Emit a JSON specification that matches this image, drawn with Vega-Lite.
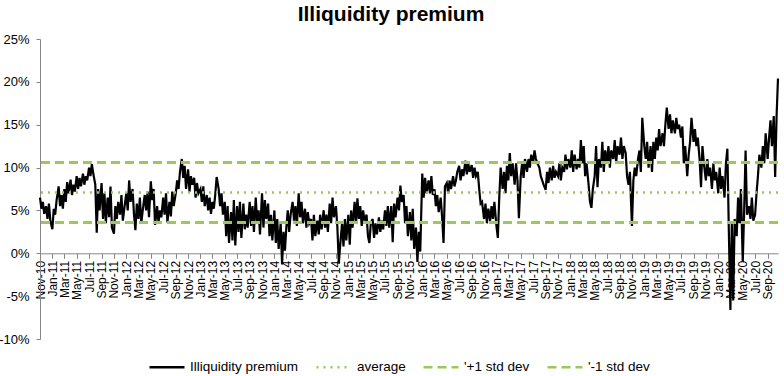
{
  "$schema": "https://vega.github.io/schema/vega-lite/v6.json",
  "width": 738,
  "height": 300,
  "autosize": "none",
  "padding": {"left": 40, "top": 39, "right": 6, "bottom": 37},
  "background": "#ffffff",
  "config": {
    "view": {"stroke": null},
    "font": "Liberation Sans",
    "legend": {"symbolType": "stroke", "symbolSize": 1225, "symbolStrokeWidth": 2.5, "labelFontSize": 13.5, "labelColor": "#000000", "labelFont": "Liberation Sans", "columnPadding": 12, "labelOffset": 4, "padding": 0}
  },
  "title": {"text": "Illiquidity premium", "fontSize": 21, "fontWeight": "bold", "font": "Liberation Sans", "color": "#000000", "anchor": "middle", "dx": -18, "offset": 8},
  "layer": [
    {
      "data": {"values": [
{"d":"2010-11-01","v":6.5},{"d":"2010-11-08","v":5.2},{"d":"2010-11-15","v":6.0},{"d":"2010-11-22","v":4.6},
{"d":"2010-12-01","v":5.5},{"d":"2010-12-08","v":4.0},{"d":"2010-12-15","v":5.8},{"d":"2010-12-22","v":3.8},
{"d":"2011-01-01","v":2.8},{"d":"2011-01-08","v":5.2},{"d":"2011-01-15","v":4.5},{"d":"2011-01-22","v":6.2},
{"d":"2011-02-01","v":7.8},{"d":"2011-02-08","v":5.5},{"d":"2011-02-15","v":6.8},{"d":"2011-02-22","v":5.2},
{"d":"2011-03-01","v":7.5},{"d":"2011-03-08","v":6.0},{"d":"2011-03-15","v":8.3},{"d":"2011-03-22","v":7.0},
{"d":"2011-04-01","v":8.6},{"d":"2011-04-08","v":6.8},{"d":"2011-04-15","v":8.0},{"d":"2011-04-22","v":7.2},
{"d":"2011-05-01","v":9.0},{"d":"2011-05-08","v":7.5},{"d":"2011-05-15","v":8.8},{"d":"2011-05-22","v":7.8},
{"d":"2011-06-01","v":9.3},{"d":"2011-06-08","v":8.0},{"d":"2011-06-15","v":9.0},{"d":"2011-06-22","v":8.5},
{"d":"2011-07-01","v":10.0},{"d":"2011-07-08","v":9.0},{"d":"2011-07-15","v":10.4},{"d":"2011-07-22","v":9.3},
{"d":"2011-08-01","v":8.0},{"d":"2011-08-08","v":2.4},{"d":"2011-08-15","v":7.5},{"d":"2011-08-22","v":5.0},
{"d":"2011-09-01","v":8.2},{"d":"2011-09-08","v":4.0},{"d":"2011-09-15","v":7.0},{"d":"2011-09-22","v":3.5},
{"d":"2011-10-01","v":6.5},{"d":"2011-10-08","v":4.2},{"d":"2011-10-15","v":7.8},{"d":"2011-10-22","v":3.0},
{"d":"2011-11-01","v":2.3},{"d":"2011-11-08","v":5.5},{"d":"2011-11-15","v":4.0},{"d":"2011-11-22","v":6.0},
{"d":"2011-12-01","v":4.5},{"d":"2011-12-08","v":6.8},{"d":"2011-12-15","v":3.8},{"d":"2011-12-22","v":5.2},
{"d":"2012-01-01","v":7.0},{"d":"2012-01-08","v":5.0},{"d":"2012-01-15","v":8.5},{"d":"2012-01-22","v":6.0},
{"d":"2012-02-01","v":7.5},{"d":"2012-02-08","v":4.5},{"d":"2012-02-15","v":2.7},{"d":"2012-02-22","v":5.8},
{"d":"2012-03-01","v":4.0},{"d":"2012-03-08","v":6.5},{"d":"2012-03-15","v":3.5},{"d":"2012-03-22","v":5.0},
{"d":"2012-04-01","v":6.8},{"d":"2012-04-08","v":5.0},{"d":"2012-04-15","v":7.2},{"d":"2012-04-22","v":4.2},
{"d":"2012-05-01","v":8.4},{"d":"2012-05-08","v":6.2},{"d":"2012-05-15","v":7.5},{"d":"2012-05-22","v":3.3},
{"d":"2012-06-01","v":5.5},{"d":"2012-06-08","v":3.6},{"d":"2012-06-15","v":5.0},{"d":"2012-06-22","v":4.2},
{"d":"2012-07-01","v":6.5},{"d":"2012-07-08","v":4.5},{"d":"2012-07-15","v":7.0},{"d":"2012-07-22","v":3.6},
{"d":"2012-08-01","v":6.0},{"d":"2012-08-08","v":4.3},{"d":"2012-08-15","v":7.2},{"d":"2012-08-22","v":5.5},
{"d":"2012-09-01","v":7.0},{"d":"2012-09-08","v":8.5},{"d":"2012-09-15","v":7.5},{"d":"2012-09-22","v":9.5},
{"d":"2012-10-01","v":11.0},{"d":"2012-10-08","v":8.8},{"d":"2012-10-15","v":10.2},{"d":"2012-10-22","v":7.5},
{"d":"2012-11-01","v":9.8},{"d":"2012-11-08","v":7.2},{"d":"2012-11-15","v":9.0},{"d":"2012-11-22","v":8.0},
{"d":"2012-12-01","v":8.8},{"d":"2012-12-08","v":6.5},{"d":"2012-12-15","v":8.2},{"d":"2012-12-22","v":7.0},
{"d":"2013-01-01","v":7.5},{"d":"2013-01-08","v":6.0},{"d":"2013-01-15","v":7.8},{"d":"2013-01-22","v":5.5},
{"d":"2013-02-01","v":6.8},{"d":"2013-02-08","v":5.0},{"d":"2013-02-15","v":6.5},{"d":"2013-02-22","v":4.6},
{"d":"2013-03-01","v":6.0},{"d":"2013-03-08","v":5.2},{"d":"2013-03-15","v":6.8},{"d":"2013-03-22","v":8.9},
{"d":"2013-04-01","v":7.5},{"d":"2013-04-08","v":5.5},{"d":"2013-04-15","v":7.0},{"d":"2013-04-22","v":4.5},
{"d":"2013-05-01","v":6.0},{"d":"2013-05-08","v":2.0},{"d":"2013-05-15","v":5.5},{"d":"2013-05-22","v":1.2},
{"d":"2013-06-01","v":4.8},{"d":"2013-06-08","v":1.5},{"d":"2013-06-15","v":6.2},{"d":"2013-06-22","v":0.9},
{"d":"2013-07-01","v":5.5},{"d":"2013-07-08","v":2.5},{"d":"2013-07-15","v":6.0},{"d":"2013-07-22","v":1.8},
{"d":"2013-08-01","v":5.8},{"d":"2013-08-08","v":2.8},{"d":"2013-08-15","v":4.5},{"d":"2013-08-22","v":3.0},
{"d":"2013-09-01","v":6.0},{"d":"2013-09-08","v":3.2},{"d":"2013-09-15","v":5.5},{"d":"2013-09-22","v":2.5},
{"d":"2013-10-01","v":6.5},{"d":"2013-10-08","v":3.5},{"d":"2013-10-15","v":5.0},{"d":"2013-10-22","v":2.2},
{"d":"2013-11-01","v":7.0},{"d":"2013-11-08","v":3.0},{"d":"2013-11-15","v":6.2},{"d":"2013-11-22","v":4.0},
{"d":"2013-12-01","v":5.8},{"d":"2013-12-08","v":2.0},{"d":"2013-12-15","v":4.5},{"d":"2013-12-22","v":1.5},
{"d":"2014-01-01","v":5.0},{"d":"2014-01-08","v":1.2},{"d":"2014-01-15","v":4.0},{"d":"2014-01-22","v":0.5},
{"d":"2014-02-01","v":3.5},{"d":"2014-02-08","v":-1.3},{"d":"2014-02-15","v":2.5},{"d":"2014-02-22","v":0.3},
{"d":"2014-03-01","v":3.0},{"d":"2014-03-08","v":5.0},{"d":"2014-03-15","v":2.5},{"d":"2014-03-22","v":4.5},
{"d":"2014-04-01","v":6.0},{"d":"2014-04-08","v":3.8},{"d":"2014-04-15","v":5.5},{"d":"2014-04-22","v":3.2},
{"d":"2014-05-01","v":7.0},{"d":"2014-05-08","v":4.2},{"d":"2014-05-15","v":6.0},{"d":"2014-05-22","v":3.5},
{"d":"2014-06-01","v":5.2},{"d":"2014-06-08","v":3.0},{"d":"2014-06-15","v":4.8},{"d":"2014-06-22","v":3.5},
{"d":"2014-07-01","v":4.0},{"d":"2014-07-08","v":1.5},{"d":"2014-07-15","v":4.5},{"d":"2014-07-22","v":2.0},
{"d":"2014-08-01","v":3.8},{"d":"2014-08-08","v":2.2},{"d":"2014-08-15","v":4.5},{"d":"2014-08-22","v":2.8},
{"d":"2014-09-01","v":5.0},{"d":"2014-09-08","v":3.0},{"d":"2014-09-15","v":4.5},{"d":"2014-09-22","v":2.5},
{"d":"2014-10-01","v":5.8},{"d":"2014-10-08","v":3.5},{"d":"2014-10-15","v":6.5},{"d":"2014-10-22","v":4.2},
{"d":"2014-11-01","v":5.5},{"d":"2014-11-08","v":3.0},{"d":"2014-11-15","v":-1.2},{"d":"2014-11-22","v":1.0},
{"d":"2014-12-01","v":3.5},{"d":"2014-12-08","v":0.8},{"d":"2014-12-15","v":4.0},{"d":"2014-12-22","v":1.5},
{"d":"2015-01-01","v":4.5},{"d":"2015-01-08","v":1.0},{"d":"2015-01-15","v":5.0},{"d":"2015-01-22","v":3.0},
{"d":"2015-02-01","v":6.0},{"d":"2015-02-08","v":3.5},{"d":"2015-02-15","v":6.4},{"d":"2015-02-22","v":4.0},
{"d":"2015-03-01","v":5.5},{"d":"2015-03-08","v":3.2},{"d":"2015-03-15","v":5.0},{"d":"2015-03-22","v":3.8},
{"d":"2015-04-01","v":4.5},{"d":"2015-04-08","v":2.0},{"d":"2015-04-15","v":1.2},{"d":"2015-04-22","v":3.5},
{"d":"2015-05-01","v":4.0},{"d":"2015-05-08","v":1.8},{"d":"2015-05-15","v":3.5},{"d":"2015-05-22","v":2.2},
{"d":"2015-06-01","v":4.2},{"d":"2015-06-08","v":2.5},{"d":"2015-06-15","v":3.8},{"d":"2015-06-22","v":2.8},
{"d":"2015-07-01","v":5.0},{"d":"2015-07-08","v":3.2},{"d":"2015-07-15","v":5.5},{"d":"2015-07-22","v":3.0},
{"d":"2015-08-01","v":5.5},{"d":"2015-08-08","v":1.3},{"d":"2015-08-15","v":5.8},{"d":"2015-08-22","v":4.2},
{"d":"2015-09-01","v":6.5},{"d":"2015-09-08","v":5.0},{"d":"2015-09-15","v":7.9},{"d":"2015-09-22","v":6.0},
{"d":"2015-10-01","v":6.8},{"d":"2015-10-08","v":3.5},{"d":"2015-10-15","v":5.5},{"d":"2015-10-22","v":2.0},
{"d":"2015-11-01","v":4.8},{"d":"2015-11-08","v":1.5},{"d":"2015-11-15","v":5.2},{"d":"2015-11-22","v":0.5},
{"d":"2015-12-01","v":3.0},{"d":"2015-12-08","v":-1.0},{"d":"2015-12-15","v":2.5},{"d":"2015-12-22","v":0.2},
{"d":"2016-01-01","v":9.3},{"d":"2016-01-08","v":6.5},{"d":"2016-01-15","v":8.8},{"d":"2016-01-22","v":7.0},
{"d":"2016-02-01","v":8.5},{"d":"2016-02-08","v":7.0},{"d":"2016-02-15","v":9.0},{"d":"2016-02-22","v":6.8},
{"d":"2016-03-01","v":7.5},{"d":"2016-03-08","v":5.5},{"d":"2016-03-15","v":6.8},{"d":"2016-03-22","v":4.8},
{"d":"2016-04-01","v":6.5},{"d":"2016-04-08","v":4.2},{"d":"2016-04-15","v":1.2},{"d":"2016-04-22","v":7.8},
{"d":"2016-05-01","v":8.2},{"d":"2016-05-08","v":7.0},{"d":"2016-05-15","v":8.5},{"d":"2016-05-22","v":7.5},
{"d":"2016-06-01","v":9.0},{"d":"2016-06-08","v":7.8},{"d":"2016-06-15","v":8.5},{"d":"2016-06-22","v":9.5},
{"d":"2016-07-01","v":10.2},{"d":"2016-07-08","v":8.5},{"d":"2016-07-15","v":9.8},{"d":"2016-07-22","v":9.0},
{"d":"2016-08-01","v":10.8},{"d":"2016-08-08","v":9.2},{"d":"2016-08-15","v":10.5},{"d":"2016-08-22","v":9.5},
{"d":"2016-09-01","v":10.3},{"d":"2016-09-08","v":8.8},{"d":"2016-09-15","v":10.0},{"d":"2016-09-22","v":9.0},
{"d":"2016-10-01","v":9.5},{"d":"2016-10-08","v":7.5},{"d":"2016-10-15","v":5.8},{"d":"2016-10-22","v":6.0},
{"d":"2016-11-01","v":4.0},{"d":"2016-11-08","v":5.8},{"d":"2016-11-15","v":3.5},{"d":"2016-11-22","v":5.2},
{"d":"2016-12-01","v":3.8},{"d":"2016-12-08","v":5.5},{"d":"2016-12-15","v":4.0},{"d":"2016-12-22","v":6.0},
{"d":"2017-01-01","v":3.2},{"d":"2017-01-08","v":1.8},{"d":"2017-01-15","v":6.5},{"d":"2017-01-22","v":10.0},
{"d":"2017-02-01","v":7.5},{"d":"2017-02-08","v":9.5},{"d":"2017-02-15","v":7.0},{"d":"2017-02-22","v":10.2},
{"d":"2017-03-01","v":8.5},{"d":"2017-03-08","v":11.7},{"d":"2017-03-15","v":9.0},{"d":"2017-03-22","v":10.5},
{"d":"2017-04-01","v":8.0},{"d":"2017-04-08","v":10.5},{"d":"2017-04-15","v":8.5},{"d":"2017-04-22","v":4.1},
{"d":"2017-05-01","v":9.0},{"d":"2017-05-08","v":10.5},{"d":"2017-05-15","v":8.8},{"d":"2017-05-22","v":11.0},
{"d":"2017-06-01","v":9.5},{"d":"2017-06-08","v":11.0},{"d":"2017-06-15","v":10.0},{"d":"2017-06-22","v":11.5},
{"d":"2017-07-01","v":10.5},{"d":"2017-07-08","v":12.0},{"d":"2017-07-15","v":11.0},{"d":"2017-07-22","v":10.5},
{"d":"2017-08-01","v":10.0},{"d":"2017-08-08","v":9.0},{"d":"2017-08-15","v":8.5},{"d":"2017-08-22","v":8.0},
{"d":"2017-09-01","v":7.4},{"d":"2017-09-08","v":9.5},{"d":"2017-09-15","v":8.2},{"d":"2017-09-22","v":10.0},
{"d":"2017-10-01","v":8.5},{"d":"2017-10-08","v":10.2},{"d":"2017-10-15","v":8.8},{"d":"2017-10-22","v":9.5},
{"d":"2017-11-01","v":9.0},{"d":"2017-11-08","v":10.5},{"d":"2017-11-15","v":8.5},{"d":"2017-11-22","v":10.0},
{"d":"2017-12-01","v":9.5},{"d":"2017-12-08","v":11.5},{"d":"2017-12-15","v":9.8},{"d":"2017-12-22","v":11.0},
{"d":"2018-01-01","v":10.0},{"d":"2018-01-08","v":12.0},{"d":"2018-01-15","v":9.5},{"d":"2018-01-22","v":11.5},
{"d":"2018-02-01","v":9.8},{"d":"2018-02-08","v":11.0},{"d":"2018-02-15","v":10.0},{"d":"2018-02-22","v":13.2},
{"d":"2018-03-01","v":10.5},{"d":"2018-03-08","v":12.5},{"d":"2018-03-15","v":9.0},{"d":"2018-03-22","v":10.5},
{"d":"2018-04-01","v":8.0},{"d":"2018-04-08","v":6.0},{"d":"2018-04-15","v":5.3},{"d":"2018-04-22","v":7.5},
{"d":"2018-05-01","v":9.0},{"d":"2018-05-08","v":12.5},{"d":"2018-05-15","v":7.7},{"d":"2018-05-22","v":11.0},
{"d":"2018-06-01","v":10.0},{"d":"2018-06-08","v":13.0},{"d":"2018-06-15","v":9.5},{"d":"2018-06-22","v":12.0},
{"d":"2018-07-01","v":10.5},{"d":"2018-07-08","v":12.5},{"d":"2018-07-15","v":10.0},{"d":"2018-07-22","v":12.0},
{"d":"2018-08-01","v":11.0},{"d":"2018-08-08","v":13.2},{"d":"2018-08-15","v":10.5},{"d":"2018-08-22","v":12.5},
{"d":"2018-09-01","v":11.5},{"d":"2018-09-08","v":13.5},{"d":"2018-09-15","v":11.0},{"d":"2018-09-22","v":12.5},
{"d":"2018-10-01","v":11.7},{"d":"2018-10-08","v":9.0},{"d":"2018-10-15","v":8.0},{"d":"2018-10-22","v":9.5},
{"d":"2018-11-01","v":3.2},{"d":"2018-11-08","v":8.5},{"d":"2018-11-15","v":10.0},{"d":"2018-11-22","v":9.0},
{"d":"2018-12-01","v":11.0},{"d":"2018-12-08","v":12.0},{"d":"2018-12-15","v":9.5},{"d":"2018-12-22","v":15.8},
{"d":"2019-01-01","v":12.5},{"d":"2019-01-08","v":11.0},{"d":"2019-01-15","v":13.0},{"d":"2019-01-22","v":10.0},
{"d":"2019-02-01","v":12.5},{"d":"2019-02-08","v":9.5},{"d":"2019-02-15","v":13.0},{"d":"2019-02-22","v":11.0},
{"d":"2019-03-01","v":13.5},{"d":"2019-03-08","v":12.0},{"d":"2019-03-15","v":14.5},{"d":"2019-03-22","v":12.5},
{"d":"2019-04-01","v":14.0},{"d":"2019-04-08","v":12.5},{"d":"2019-04-15","v":15.0},{"d":"2019-04-22","v":17.0},
{"d":"2019-05-01","v":14.5},{"d":"2019-05-08","v":16.2},{"d":"2019-05-15","v":14.0},{"d":"2019-05-22","v":15.5},
{"d":"2019-06-01","v":14.0},{"d":"2019-06-08","v":15.8},{"d":"2019-06-15","v":14.5},{"d":"2019-06-22","v":15.0},
{"d":"2019-07-01","v":13.5},{"d":"2019-07-08","v":14.8},{"d":"2019-07-15","v":10.5},{"d":"2019-07-22","v":12.5},
{"d":"2019-08-01","v":9.0},{"d":"2019-08-08","v":11.5},{"d":"2019-08-15","v":13.0},{"d":"2019-08-22","v":15.8},
{"d":"2019-09-01","v":13.0},{"d":"2019-09-08","v":14.5},{"d":"2019-09-15","v":12.5},{"d":"2019-09-22","v":13.5},
{"d":"2019-10-01","v":11.0},{"d":"2019-10-08","v":7.7},{"d":"2019-10-15","v":12.5},{"d":"2019-10-22","v":10.5},
{"d":"2019-11-01","v":8.5},{"d":"2019-11-08","v":11.0},{"d":"2019-11-15","v":9.0},{"d":"2019-11-22","v":10.0},
{"d":"2019-12-01","v":7.5},{"d":"2019-12-08","v":10.5},{"d":"2019-12-15","v":8.5},{"d":"2019-12-22","v":9.5},
{"d":"2020-01-01","v":7.0},{"d":"2020-01-08","v":10.0},{"d":"2020-01-15","v":7.5},{"d":"2020-01-22","v":9.0},
{"d":"2020-02-01","v":6.5},{"d":"2020-02-08","v":10.5},{"d":"2020-02-15","v":12.2},{"d":"2020-02-22","v":3.0},
{"d":"2020-03-01","v":-6.6},{"d":"2020-03-08","v":3.5},{"d":"2020-03-15","v":-5.5},{"d":"2020-03-22","v":4.0},
{"d":"2020-04-01","v":2.0},{"d":"2020-04-08","v":6.5},{"d":"2020-04-15","v":3.5},{"d":"2020-04-22","v":7.5},
{"d":"2020-05-01","v":-1.0},{"d":"2020-05-08","v":5.0},{"d":"2020-05-15","v":12.0},{"d":"2020-05-22","v":4.5},
{"d":"2020-06-01","v":5.5},{"d":"2020-06-08","v":4.0},{"d":"2020-06-15","v":6.5},{"d":"2020-06-22","v":3.8},
{"d":"2020-07-01","v":4.5},{"d":"2020-07-08","v":7.0},{"d":"2020-07-15","v":9.0},{"d":"2020-07-22","v":11.5},
{"d":"2020-08-01","v":10.0},{"d":"2020-08-08","v":12.5},{"d":"2020-08-15","v":10.5},{"d":"2020-08-22","v":14.0},
{"d":"2020-09-01","v":11.0},{"d":"2020-09-08","v":13.5},{"d":"2020-09-15","v":15.5},{"d":"2020-09-22","v":12.5},
{"d":"2020-10-01","v":16.0},{"d":"2020-10-08","v":8.9},{"d":"2020-10-15","v":16.0},{"d":"2020-10-22","v":20.4}
      ]},
      "mark": {"type": "line", "strokeWidth": 2.2},
      "encoding": {
        "x": {"field": "d", "type": "temporal", "title": null,
              "axis": {"format": "%b-%y", "tickCount": {"interval": "month", "step": 2}, "labelAngle": -90, "labelFontSize": 12, "labelColor": "#000000", "labelPadding": 2, "tickSize": 5, "tickColor": "#868686", "domainColor": "#868686", "grid": false, "offset": -85.7, "labelOverlap": false, "labelFlush": false}},
        "y": {"field": "v", "type": "quantitative", "title": null,
              "scale": {"domain": [-10, 25], "nice": false, "zero": false},
              "axis": {"values": [-10, -5, 0, 5, 10, 15, 20, 25], "labelExpr": "datum.value + '%'", "grid": false, "tickSize": 4, "labelFontSize": 13, "labelPadding": 7, "labelColor": "#000000", "domainColor": "#868686", "tickColor": "#868686"}},
        "color": {"datum": "Illiquidity premium", "type": "nominal",
                  "scale": {"domain": ["Illiquidity premium", "average", "'+1 std dev", "'-1 std dev"], "range": ["#000000", "#9BC85B", "#9BC85B", "#9BC85B"]},
                  "legend": {"orient": "none", "legendX": 108, "legendY": 309, "direction": "horizontal", "title": null}},
        "strokeDash": {"datum": "Illiquidity premium", "type": "nominal",
                  "scale": {"domain": ["Illiquidity premium", "average", "'+1 std dev", "'-1 std dev"], "range": [[1, 0], [2, 5], [9, 5], [9, 5]]},
                  "legend": {"orient": "none", "legendX": 108, "legendY": 309, "direction": "horizontal", "title": null}}
      }
    },
    {
      "data": {"values": [{"s": "average", "v": 7.1}]},
      "mark": {"type": "rule", "strokeWidth": 2.5},
      "encoding": {
        "y": {"field": "v", "type": "quantitative"},
        "color": {"field": "s", "type": "nominal", "legend": {"orient": "none", "legendX": 108, "legendY": 309, "direction": "horizontal", "title": null}},
        "strokeDash": {"field": "s", "type": "nominal", "legend": {"orient": "none", "legendX": 108, "legendY": 309, "direction": "horizontal", "title": null}}
      }
    },
    {
      "data": {"values": [{"s": "'+1 std dev", "v": 10.6}, {"s": "'-1 std dev", "v": 3.6}]},
      "mark": {"type": "rule", "strokeWidth": 3},
      "encoding": {
        "y": {"field": "v", "type": "quantitative"},
        "color": {"field": "s", "type": "nominal", "legend": {"orient": "none", "legendX": 108, "legendY": 309, "direction": "horizontal", "title": null}},
        "strokeDash": {"field": "s", "type": "nominal", "legend": {"orient": "none", "legendX": 108, "legendY": 309, "direction": "horizontal", "title": null}}
      }
    }
  ]
}
